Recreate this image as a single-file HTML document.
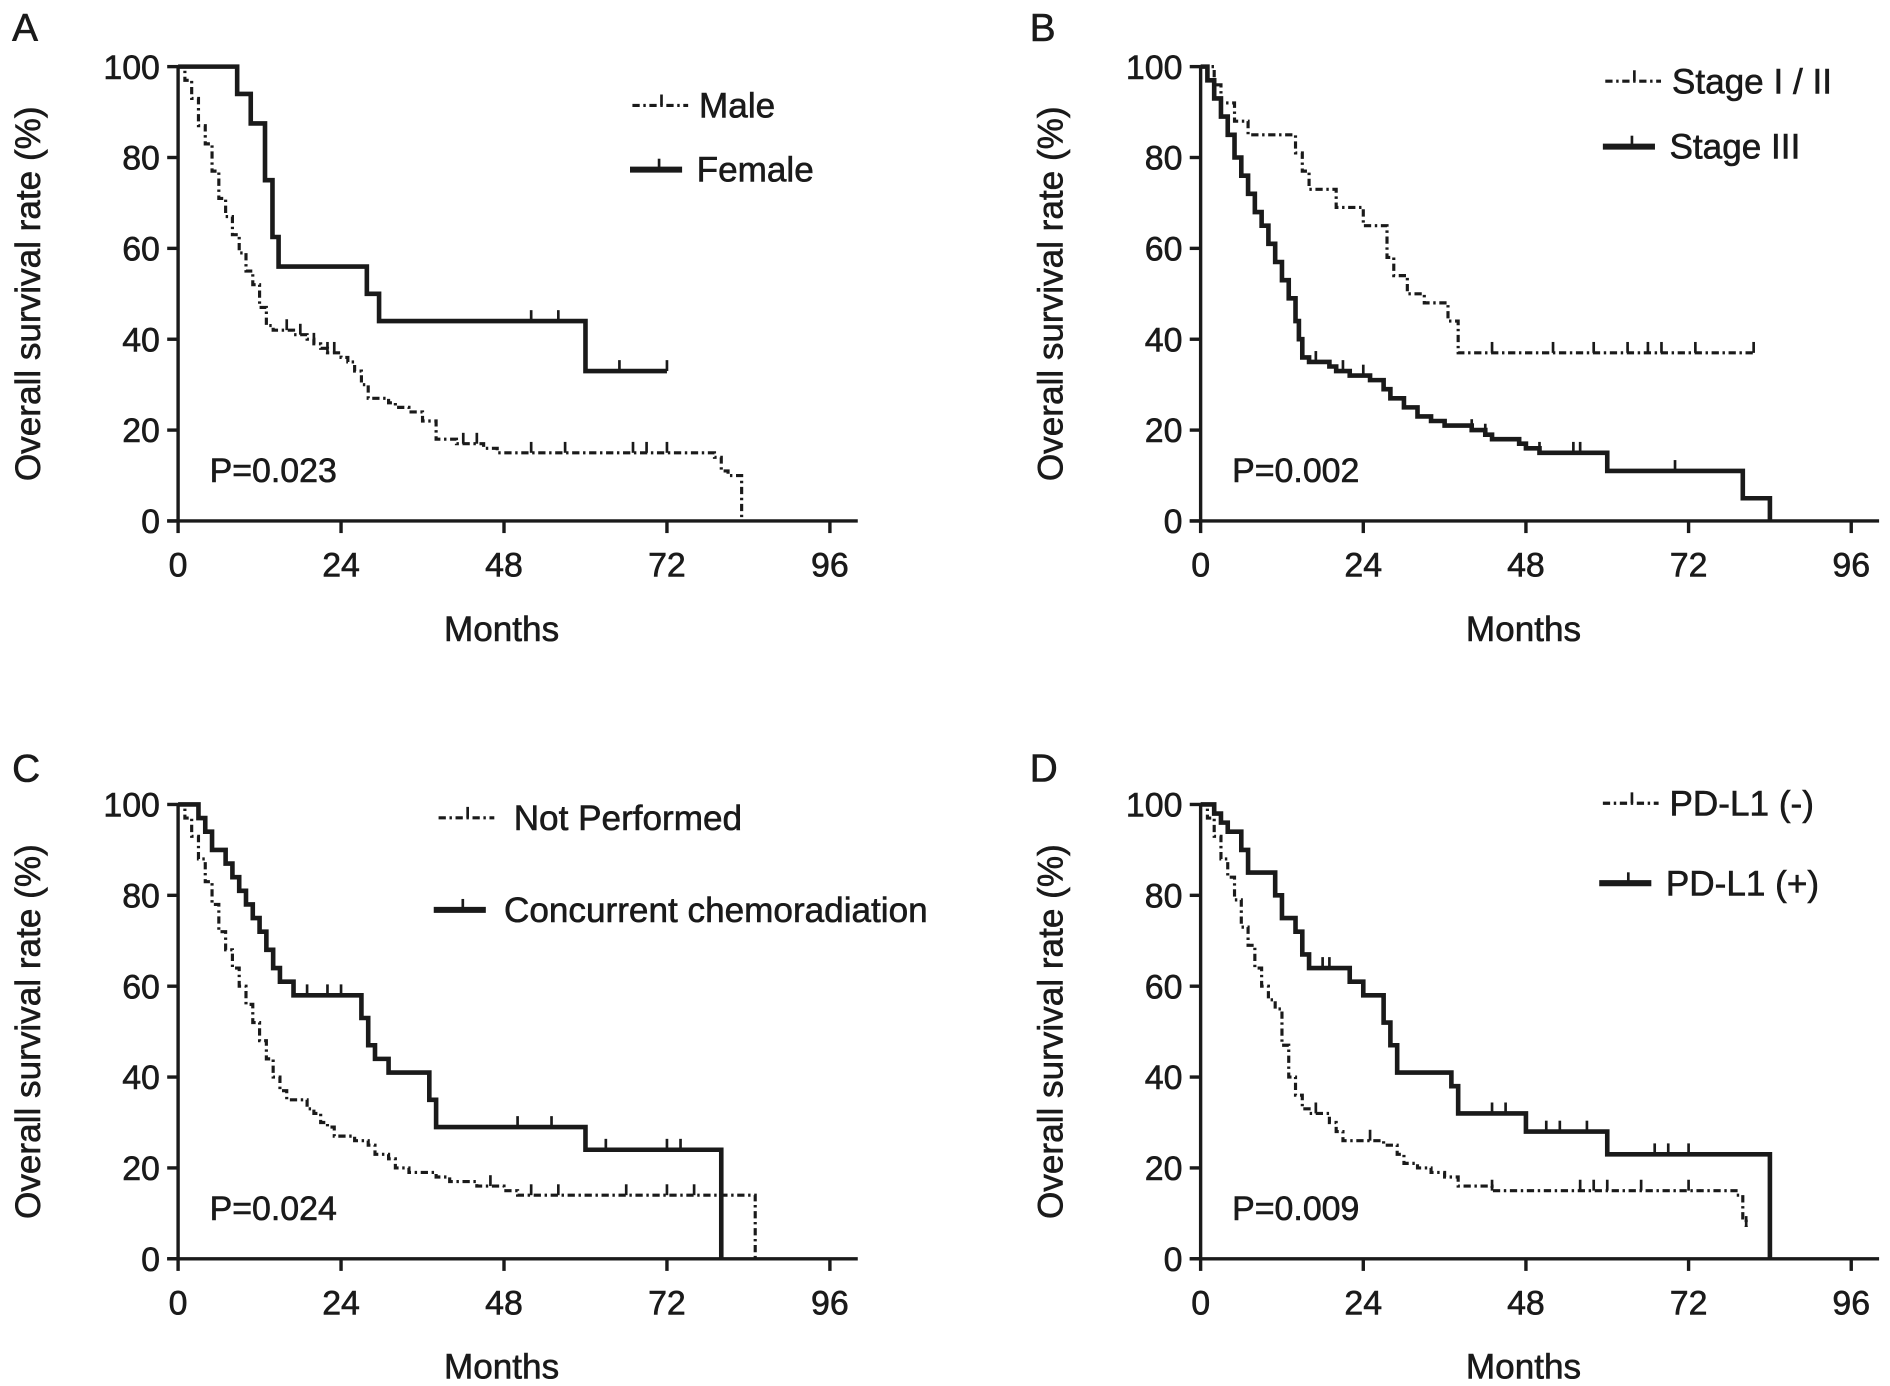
<!DOCTYPE html>
<html><head><meta charset="utf-8"><style>
html,body{margin:0;padding:0;background:#fff;}
svg{display:block;}
text{font-family:"Liberation Sans",Arial,sans-serif;fill:#1a1a1a;stroke:#1a1a1a;stroke-width:0.5;}
</style></head><body>
<svg id="fig" width="1890" height="1386" viewBox="0 0 1560 1144" xmlns="http://www.w3.org/2000/svg"></svg>
<script>
// Panel A
const aFemaleT=[0,8.7,10.7,12.8,13.9,14.8,27.8,29.6,60,72];
const aFemaleS=[100,94,87.5,75,62.5,56,50,44,33,33];
const aFemaleC=[52,56,65,72];
const aMaleT=[0,1,2,3,4,5,6,7,8,9,10,11,12,13,14,17,19,20,21,22,24,25,26,27,28,31,32,34,36,38,41,45,47,79,80,81,83];
const aMaleS=[100,97,93,87,83,77,71,67,63,59,55,52,47,43,42,41,40,39,38,37,36,35,33,30,27,26,25,24,22,18,17,16,15,14,11,10,0];
const aMaleC=[16,18,20,22,23,42,44,52,57,67,69,72];
// Panel B
const bEarlyT=[0,2,3,5,7,14,15,16,20,24,27.5,28.5,30.5,33,36.5,38];
const bEarlyS=[100,96,92,88,85,81,77,73,69,65,58,54,50,48,44,37];
const bEarlyC=[43,52,58,63,66,68,73,81.6];
const bLateT=[0,1,2,3,4,5,6,7,8,9,10,11,12,13,14,14.5,15,16,19,20,22,25,27,28,30,32,34,36,40,42,43,47,48,50,60,80,84];
const bLateS=[100,97,93,89,85,80,76,72,68,65,61,57,53,49,44,40,36,35,34,33,32,31,29,27,25,23,22,21,20,19,18,17,16,15,11,5,0];
const bLateC=[17,21,24,40,42,50,55,56,70];
// Panel C
const cNoT=[0,1,2,3,4,5,6,7,8,9,10,11,12,13,14,15,16,19,20,21,22,23,26,28,29,31,32,34,38,40,44,48,50,85];
const cNoS=[100,97,93,88,83,78,72,68,64,60,56,52,48,44,40,37,35,33,32,30,29,27,26,25,23,22,20,19,18,17,16,15,14,0];
const cNoC=[46,52,56,66,72,76];
const cCrtT=[0,3,4,5,7,8,9,10,11,12,13,14,15,17,27,28,29,31,37,38,60,80];
const cCrtS=[100,97,94,90,87,84,81,78,75,72,68,64,61,58,53,47,44,41,35,29,24,0];
const cCrtC=[19,22,24,50,55,63,72,74];
// Panel D
const dNegT=[0,1,2,3,4,5,6,7,8,9,10,11,12,13,14,15,16,19,20,21,24,27,29,30,32,34,36,38,43,79,80,80.5];
const dNegS=[100,97,93,88,84,79,73,69,64,60,57,55,47,40,36,33,32,30,28,26,26,25,23,21,20,19,18,16,15,14,9,7];
const dNegC=[17,25,43,56,58,60,65,72,80.5];
const dPosT=[0,2,3,4,6,7,11,12,14,15,16,22,24,27,28,29,37,38,48,60,84];
const dPosS=[100,98,96,94,90,85,80,75,72,67,64,61,58,52,47,41,38,32,28,23,0];
const dPosC=[18,19,43,45,51,53,57,67,69,72];
const xTicks=[0,24,48,72,96];
const yTicks=[0,20,40,60,80,100];

const NS='http://www.w3.org/2000/svg';
const svg=document.getElementById('fig');
function mk(tag,attrs,parent){const e=document.createElementNS(NS,tag);for(const k in attrs)e.setAttribute(k,attrs[k]);(parent||svg).appendChild(e);return e;}
const DASH='6,3,2,3';
const panels=[
 {id:'a',letter:'A',lx:10,ly:34,x0:147,x1:685,y0:430,y1:55,p:'P=0.023',
  series:[{n:'male',t:aMaleT,s:aMaleS,c:aMaleC,dash:true,label:'Male',lgx:522,lgy:87},
          {n:'female',t:aFemaleT,s:aFemaleS,c:aFemaleC,dash:false,label:'Female',lgx:520,lgy:140}]},
 {id:'b',letter:'B',lx:850,ly:34,x0:991,x1:1528,y0:430,y1:55,p:'P=0.002',
  series:[{n:'stage-i-ii',t:bEarlyT,s:bEarlyS,c:bEarlyC,dash:true,label:'Stage I / II',lgx:1325,lgy:67},
          {n:'stage-iii',t:bLateT,s:bLateS,c:bLateC,dash:false,label:'Stage III',lgx:1323,lgy:121}]},
 {id:'c',letter:'C',lx:10,ly:645,x0:147,x1:685,y0:1039,y1:664,p:'P=0.024',
  series:[{n:'not-performed',t:cNoT,s:cNoS,c:cNoC,dash:true,label:'Not Performed',lgx:362,lgy:675,tx:424},
          {n:'concurrent-chemoradiation',t:cCrtT,s:cCrtS,c:cCrtC,dash:false,label:'Concurrent chemoradiation',lgx:358,lgy:751,tx:416}]},
 {id:'d',letter:'D',lx:850,ly:645,x0:991,x1:1528,y0:1039,y1:664,p:'P=0.009',
  series:[{n:'pd-l1-neg',t:dNegT,s:dNegS,c:dNegC,dash:true,label:'PD-L1 (-)',lgx:1323,lgy:663},
          {n:'pd-l1-pos',t:dPosT,s:dPosS,c:dPosC,dash:false,label:'PD-L1 (+)',lgx:1320,lgy:729}]}
];
panels.forEach(P=>{
 const g=mk('g',{});
 
 
 const X=m=>P.x0+(P.x1-P.x0)*m/96;
 const Y=v=>P.y0+(P.y1-P.y0)*v/100;
 const L=mk('text',{x:P.lx,y:P.ly,'font-size':32},g);L.textContent=P.letter;
 
 const ax=mk('g',{stroke:'#1a1a1a','stroke-width':2.8,fill:'none'},g);
 
 mk('line',{x1:P.x0,y1:P.y1,x2:P.x0,y2:P.y0},ax);
 mk('line',{x1:P.x0-9,y1:P.y0,x2:P.x1+23,y2:P.y0},ax);
 yTicks.forEach(v=>{mk('line',{x1:P.x0-9,y1:Y(v),x2:P.x0,y2:Y(v)},ax);
  const t=mk('text',{x:P.x0-15,y:Y(v)+10,'font-size':28,'text-anchor':'end'},g);t.textContent=v;
  });
 xTicks.forEach(m=>{mk('line',{x1:X(m),y1:P.y0,x2:X(m),y2:P.y0+10},ax);
  const t=mk('text',{x:X(m),y:P.y0+46,'font-size':28,'text-anchor':'middle'},g);t.textContent=m;
  });
 const xt=mk('text',{x:(P.x0+P.x1)/2-2,y:P.y0+99,'font-size':29,'text-anchor':'middle'},g);xt.textContent='Months';
 
 const yc=(P.y0+P.y1)/2, yx=P.x0-114;
 const yt=mk('text',{x:yx,y:yc,'font-size':29,'text-anchor':'middle',transform:`rotate(-90 ${yx} ${yc})`},g);yt.textContent='Overall survival rate (%)';
 
 const pv=mk('text',{x:P.x0+26,y:P.y0-32,'font-size':28},g);pv.textContent=P.p;
 
 P.series.forEach(S=>{
  let d=`M${X(S.t[0])},${Y(S.s[0])}`;
  for(let i=1;i<S.t.length;i++){d+=` H${X(S.t[i])} V${Y(S.s[i])}`;}
  const last=S.c.length?Math.max(...S.c):S.t[S.t.length-1];
  if(last>S.t[S.t.length-1])d+=` H${X(last)}`;
  const sw=S.dash?2.6:3.8;
  const attrs={d:d,fill:'none',stroke:'#1a1a1a','stroke-width':sw};
  if(S.dash)attrs['stroke-dasharray']=DASH;
  const path=mk('path',attrs,g);
  
  
  const survAt=m=>{let v=S.s[0];for(let i=0;i<S.t.length;i++){if(S.t[i]<=m)v=S.s[i];}return v;};
  S.c.forEach(m=>{const cl=mk('line',{x1:X(m),y1:Y(survAt(m)),x2:X(m),y2:Y(survAt(m))-9,stroke:'#1a1a1a','stroke-width':2.2},g);
   });
  const lg=mk('g',{},g);
  
  
  const la={x1:S.lgx,y1:S.lgy,x2:S.lgx+(S.dash?46:43),y2:S.lgy,stroke:'#1a1a1a','stroke-width':S.dash?2.6:5};
  if(S.dash)la['stroke-dasharray']=DASH;
  mk('line',la,lg);
  mk('line',{x1:S.lgx+24,y1:S.lgy,x2:S.lgx+24,y2:S.lgy-9,stroke:'#1a1a1a','stroke-width':2.2},lg);
  const tt=mk('text',{x:S.tx||(S.lgx+55),y:S.lgy+10,'font-size':29},lg);tt.textContent=S.label;
 });
});
</script>
</body></html>
